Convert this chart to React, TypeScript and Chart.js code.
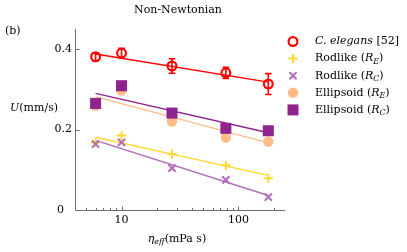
import { useEffect, useRef } from "react";
import { Chart, registerables } from "chart.js";

Chart.register(...registerables);

// ---- data ----
const etaValues = [6, 10, 27, 78, 180];
const elegansU = [0.381, 0.39, 0.358, 0.341, 0.313];
const elegansErr = [0.01, 0.012, 0.018, 0.014, 0.026];
const rodlikeREU = [0.168, 0.185, 0.139, 0.111, 0.079];
const rodlikeRCU = [0.164, 0.168, 0.104, 0.075, 0.032];
const ellipsoidREU = [0.259, 0.297, 0.22, 0.18, 0.17];
const ellipsoidRCU = [0.265, 0.309, 0.241, 0.203, 0.197];

const fitEta = [6, 180];
const fitElegans = [0.388, 0.318];
const fitRodlikeRE = [0.181, 0.086];
const fitRodlikeRC = [0.173, 0.036];
const fitEllipsoidRE = [0.282, 0.167];
const fitEllipsoidRC = [0.29, 0.192];

const yTicks = [0, 0.2, 0.4];
const yTickLabels = ["0", "0.2", "0.4"];
const xMajorTicks = [10, 100];
const xMajorLabels = ["10", "100"];
const xMinorTicks = [5, 6, 7, 8, 9, 20, 30, 40, 50, 60, 70, 80, 90, 200];

const RED = "#ff0000";
const YELLOW = "#ffd935";
const LIGHT_PURPLE = "#b26cba";
const PEACH = "#ffbb88";
const DARK_PURPLE = "#8e2490";
const AXIS = "#6e6e6e";

const FONT = "'DejaVu Serif', serif";

type Seg = { t: string; it?: boolean; sub?: boolean };

function richWidth(ctx: CanvasRenderingContext2D, segs: Seg[], size: number) {
  let w = 0;
  for (const s of segs) {
    ctx.font = `${s.it ? "italic " : ""}${s.sub ? size * 0.72 : size}px ${FONT}`;
    w += ctx.measureText(s.t).width;
  }
  return w;
}

function drawRich(ctx: CanvasRenderingContext2D, x: number, y: number, segs: Seg[], size = 11) {
  ctx.textBaseline = "middle";
  ctx.textAlign = "left";
  ctx.fillStyle = "#000";
  let cx = x;
  for (const s of segs) {
    ctx.font = `${s.it ? "italic " : ""}${s.sub ? size * 0.72 : size}px ${FONT}`;
    ctx.fillText(s.t, cx, s.sub ? y + 3 : y);
    cx += ctx.measureText(s.t).width;
  }
}

function pts(ys: number[], xs: number[] = etaValues) {
  return xs.map((x, i) => ({ x, y: ys[i] }));
}

function marker(ctx: CanvasRenderingContext2D, kind: string, x: number, y: number) {
  ctx.save();
  ctx.lineCap = "butt";
  if (kind === "ocircle") {
    ctx.strokeStyle = RED;
    ctx.lineWidth = 2.2;
    ctx.beginPath();
    ctx.arc(x, y, 4.4, 0, Math.PI * 2);
    ctx.stroke();
  } else if (kind === "plus") {
    ctx.strokeStyle = YELLOW;
    ctx.lineWidth = 2;
    ctx.beginPath();
    ctx.moveTo(x - 4.7, y);
    ctx.lineTo(x + 4.7, y);
    ctx.moveTo(x, y - 4.7);
    ctx.lineTo(x, y + 4.7);
    ctx.stroke();
  } else if (kind === "x") {
    ctx.strokeStyle = LIGHT_PURPLE;
    ctx.lineWidth = 2;
    const d = 3.6;
    ctx.beginPath();
    ctx.moveTo(x - d, y - d);
    ctx.lineTo(x + d, y + d);
    ctx.moveTo(x - d, y + d);
    ctx.lineTo(x + d, y - d);
    ctx.stroke();
  } else if (kind === "fcircle") {
    ctx.fillStyle = PEACH;
    ctx.beginPath();
    ctx.arc(x, y, 5.2, 0, Math.PI * 2);
    ctx.fill();
  } else if (kind === "square") {
    ctx.fillStyle = DARK_PURPLE;
    ctx.fillRect(x - 5.5, y - 5.5, 11, 11);
  }
  ctx.restore();
}

const customPlugin = {
  id: "customAxes",
  beforeDatasetsDraw(chart: any) {
    const ctx: CanvasRenderingContext2D = chart.ctx;
    const { left, right, top, bottom } = chart.chartArea;
    const xs = chart.scales.x;
    const ys = chart.scales.y;
    ctx.save();
    ctx.strokeStyle = AXIS;
    ctx.lineWidth = 1;
    const lx = Math.round(left) + 0.5;
    const by = Math.round(bottom) + 0.5;
    ctx.beginPath();
    ctx.moveTo(lx, top);
    ctx.lineTo(lx, by);
    ctx.lineTo(right, by);
    ctx.stroke();
    ctx.beginPath();
    for (const v of yTicks) {
      if (v === 0) continue;
      const py = Math.round(ys.getPixelForValue(v)) + 0.5;
      ctx.moveTo(lx, py);
      ctx.lineTo(lx + 4, py);
    }
    for (const v of xMajorTicks) {
      const px = Math.round(xs.getPixelForValue(v)) + 0.5;
      ctx.moveTo(px, by);
      ctx.lineTo(px, by - 4);
    }
    for (const v of xMinorTicks) {
      const px = Math.round(xs.getPixelForValue(v)) + 0.5;
      ctx.moveTo(px, by);
      ctx.lineTo(px, by - 2.5);
    }
    ctx.stroke();
    ctx.restore();
  },
  afterDatasetsDraw(chart: any) {
    const ctx: CanvasRenderingContext2D = chart.ctx;
    const xs = chart.scales.x;
    const ys = chart.scales.y;
    ctx.save();
    ctx.strokeStyle = RED;
    ctx.lineWidth = 1.6;
    ctx.beginPath();
    etaValues.forEach((x, i) => {
      const px = xs.getPixelForValue(x);
      const y1 = ys.getPixelForValue(elegansU[i] - elegansErr[i]);
      const y2 = ys.getPixelForValue(elegansU[i] + elegansErr[i]);
      ctx.moveTo(px, y1);
      ctx.lineTo(px, y2);
      ctx.moveTo(px - 3.3, y1);
      ctx.lineTo(px + 3.3, y1);
      ctx.moveTo(px - 3.3, y2);
      ctx.lineTo(px + 3.3, y2);
    });
    ctx.stroke();
    ctx.restore();
  },
  afterDraw(chart: any) {
    const ctx: CanvasRenderingContext2D = chart.ctx;
    const { left, right, bottom } = chart.chartArea;
    const xs = chart.scales.x;
    const ys = chart.scales.y;
    ctx.save();
    // title
    const titleSegs: Seg[] = [{ t: "Non-Newtonian" }];
    drawRich(ctx, 178 - richWidth(ctx, titleSegs, 11) / 2, 10, titleSegs);
    drawRich(ctx, 5, 31, [{ t: "(b)" }]);
    // y tick labels
    yTicks.forEach((v, i) => {
      const segs: Seg[] = [{ t: yTickLabels[i] }];
      const w = richWidth(ctx, segs, 11);
      const rx = v === 0 ? left - 11 : left - 3;
      drawRich(ctx, rx - w, ys.getPixelForValue(v), segs);
    });
    // x tick labels
    xMajorTicks.forEach((v, i) => {
      const segs: Seg[] = [{ t: xMajorLabels[i] }];
      const w = richWidth(ctx, segs, 11);
      drawRich(ctx, xs.getPixelForValue(v) - w / 2, bottom + 10, segs);
    });
    // axis titles
    drawRich(ctx, 10, 108, [{ t: "U", it: true }, { t: "(mm/s)" }]);
    const xl: Seg[] = [{ t: "η", it: true }, { t: "eff", it: true, sub: true }, { t: "(mPa s)" }];
    drawRich(ctx, (left + right) / 2 - 3 - richWidth(ctx, xl, 11) / 2, 239, xl);
    // legend
    const legend: { kind: string; segs: Seg[] }[] = [
      { kind: "ocircle", segs: [{ t: "C. elegans", it: true }, { t: " [52]" }] },
      { kind: "plus", segs: [{ t: "Rodlike (" }, { t: "R", it: true }, { t: "E", it: true, sub: true }, { t: ")" }] },
      { kind: "x", segs: [{ t: "Rodlike (" }, { t: "R", it: true }, { t: "C", it: true, sub: true }, { t: ")" }] },
      { kind: "fcircle", segs: [{ t: "Ellipsoid (" }, { t: "R", it: true }, { t: "E", it: true, sub: true }, { t: ")" }] },
      { kind: "square", segs: [{ t: "Ellipsoid (" }, { t: "R", it: true }, { t: "C", it: true, sub: true }, { t: ")" }] },
    ];
    legend.forEach((item, i) => {
      const y = 41.5 + i * 17.1;
      marker(ctx, item.kind, 293, y);
      drawRich(ctx, 315, y, item.segs);
    });
    ctx.restore();
  },
};

export default function App() {
  const ref = useRef<HTMLCanvasElement | null>(null);
  useEffect(() => {
    if (!ref.current) return;
    const fit = (ys: number[], color: string, order: number) => ({
      type: "line" as const,
      data: pts(ys, fitEta),
      borderColor: color,
      borderWidth: 1.4,
      pointRadius: 0,
      showLine: true,
      fill: false,
      order,
    });
    const chart = new Chart(ref.current, {
      type: "scatter",
      data: {
        datasets: [
          fit(fitElegans, RED, 20),
          fit(fitRodlikeRE, YELLOW, 20),
          fit(fitRodlikeRC, LIGHT_PURPLE, 20),
          fit(fitEllipsoidRE, PEACH, 20),
          fit(fitEllipsoidRC, DARK_PURPLE, 20),
          {
            data: pts(rodlikeREU),
            pointStyle: "cross",
            pointRadius: 4.7,
            borderColor: YELLOW,
            backgroundColor: YELLOW,
            pointBorderWidth: 2,
            order: 9,
          },
          {
            data: pts(rodlikeRCU),
            pointStyle: "crossRot",
            pointRadius: 5.1,
            borderColor: LIGHT_PURPLE,
            backgroundColor: LIGHT_PURPLE,
            pointBorderWidth: 2,
            order: 8,
          },
          {
            data: pts(ellipsoidREU),
            pointStyle: "circle",
            pointRadius: 5.2,
            borderWidth: 0,
            pointBorderWidth: 0,
            backgroundColor: PEACH,
            borderColor: PEACH,
            order: 7,
          },
          {
            data: pts(ellipsoidRCU),
            pointStyle: "rect",
            pointRadius: 7.8,
            borderWidth: 0,
            pointBorderWidth: 0,
            backgroundColor: DARK_PURPLE,
            borderColor: DARK_PURPLE,
            order: 6,
          },
          {
            data: pts(elegansU),
            pointStyle: "circle",
            pointRadius: 4.4,
            pointBorderWidth: 2.2,
            borderColor: RED,
            backgroundColor: "rgba(0,0,0,0)",
            order: 1,
          },
        ],
      },
      options: {
        responsive: false,
        animation: false,
        devicePixelRatio: 1,
        events: [],
        layout: { padding: { left: 75, right: 122, top: 29, bottom: 42 } },
        scales: {
          x: { type: "logarithmic", min: 4, max: 250, display: false },
          y: { type: "linear", min: 0, max: 0.45, display: false },
        },
        plugins: {
          legend: { display: false },
          title: { display: false },
          tooltip: { enabled: false },
        },
      },
      plugins: [customPlugin],
    } as any);
    return () => chart.destroy();
  }, []);
  return (
    <div style={{ position: "fixed", left: 0, top: 0, width: 407, height: 252, background: "#fff" }}>
      <canvas ref={ref} width={407} height={252} style={{ width: 407, height: 252, display: "block" }} />
    </div>
  );
}
